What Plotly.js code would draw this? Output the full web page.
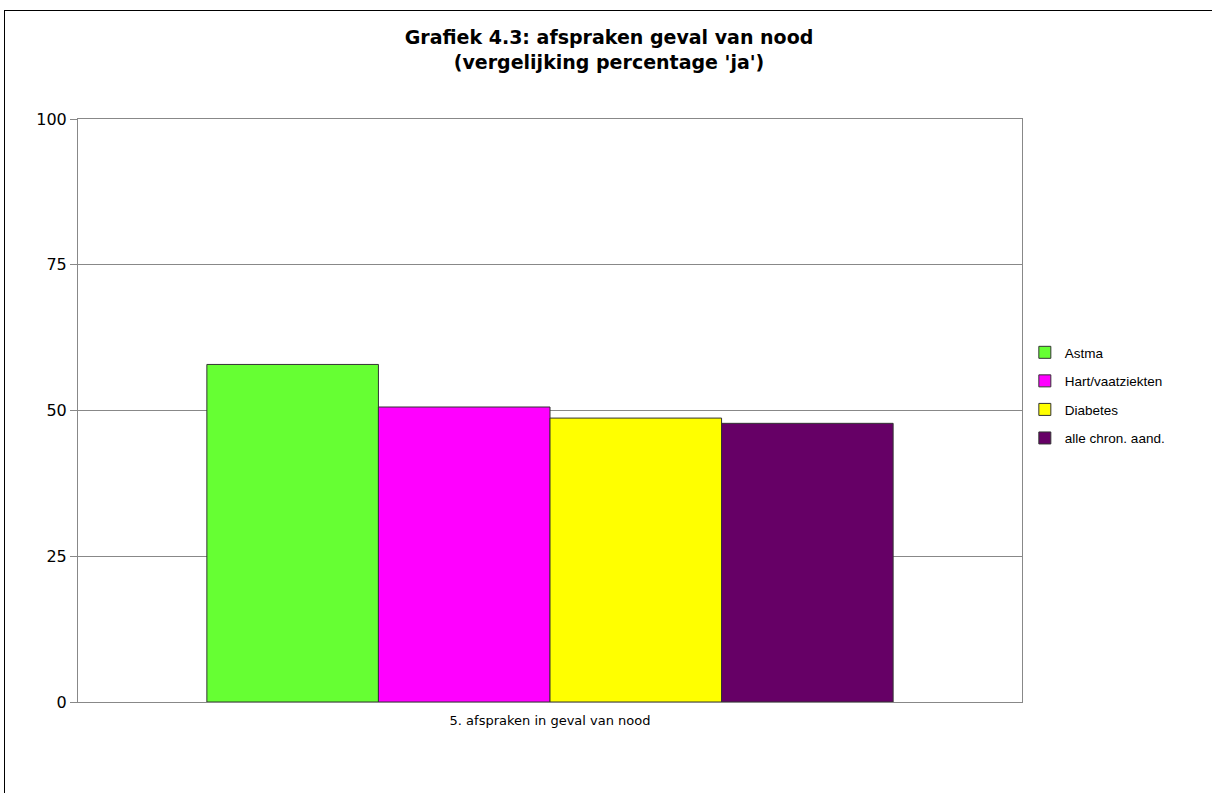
<!DOCTYPE html>
<html>
<head>
<meta charset="utf-8">
<script src="https://cdn.plot.ly/plotly-3.0.1.min.js"></script>
<style>
html,body{margin:0;padding:0;background:#fff;overflow:hidden;}
#frame{position:absolute;left:4px;top:10px;width:1208px;height:783px;border-left:1px solid #000;border-top:1px solid #000;}
#chart{width:1208px;height:783px;}
</style>
</head>
<body>
<div id="frame"><div id="chart"></div></div>
<script>
const categories = ["5. afspraken in geval van nood"];
const seriesNames = ["Astma", "Hart/vaatziekten", "Diabetes", "alle chron. aand."];
const astma = [57.9];
const hartVaat = [50.6];
const diabetes = [48.7];
const alleChron = [47.8];
const yTicks = [0, 25, 50, 75, 100];
const colors = ["#66ff33", "#ff00ff", "#ffff00", "#660066"];

const seriesValues = [astma, hartVaat, diabetes, alleChron];
const traces = seriesNames.map((n, i) => ({
  type: "bar",
  name: n,
  x: categories,
  y: seriesValues[i],
  legendgroup: "g" + i,
  marker: {color: colors[i], line: {color: "#333333", width: 1}},
  hoverinfo: "name+y"
}));

const layout = {
  width: 1208, height: 783,
  margin: {l: 73, r: 191, t: 108, b: 92},
  paper_bgcolor: "#ffffff",
  plot_bgcolor: "#ffffff",
  barmode: "group",
  bargap: 0.273,
  bargroupgap: 0,
  title: {
    text: "Grafiek 4.3: afspraken geval van nood<br>(vergelijking percentage 'ja')",
    x: 0.5, xref: "container", xanchor: "center",
    y: 0.99, yref: "container", yanchor: "top",
    pad: {t: 25},
    font: {family: "DejaVu Sans", size: 19, color: "#000000", weight: "bold"}
  },
  xaxis: {
    type: "category",
    showline: true, linecolor: "#888888", linewidth: 1, mirror: true,
    ticks: "", showgrid: false,
    ticklabelstandoff: 6,
    tickfont: {family: "DejaVu Sans", size: 13, color: "#000000"}
  },
  yaxis: {
    range: [0, 100],
    tickvals: yTicks,
    ticktext: yTicks.map(String),
    showline: true, linecolor: "#888888", linewidth: 1, mirror: true,
    ticks: "outside", ticklen: 7, tickcolor: "#888888",
    showgrid: true, gridcolor: "#888888", gridwidth: 1,
    zeroline: false,
    tickfont: {family: "DejaVu Sans", size: 16, color: "#000000"}
  },
  legend: {
    x: 1.003, xanchor: "left",
    y: 0.626, yanchor: "top",
    font: {family: "Liberation Sans", size: 13.5, color: "#000000"},
    tracegroupgap: 8,
    itemwidth: 30,
    bgcolor: "rgba(0,0,0,0)"
  },
  showlegend: true
};

Plotly.newPlot("chart", traces, layout, {displayModeBar: false, staticPlot: true});
</script>
</body>
</html>
